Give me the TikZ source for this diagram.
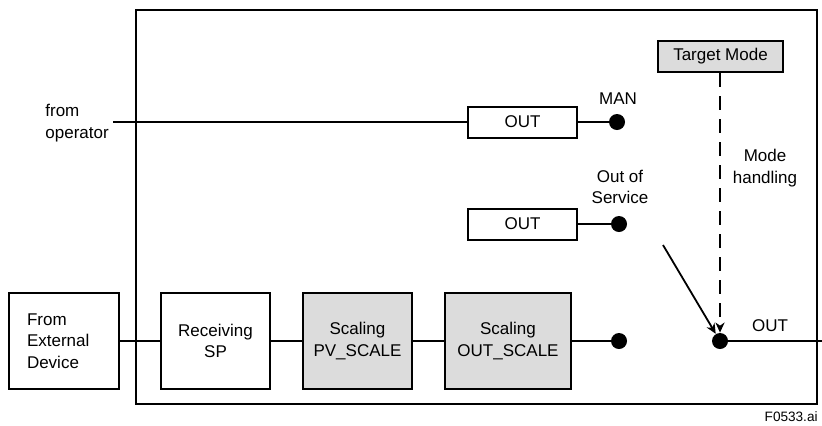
\documentclass[tikz,border=0pt]{standalone}
\usepackage{fontspec}
\setmainfont{Liberation Sans}
\usetikzlibrary{arrows.meta}
\definecolor{boxgray}{RGB}{220,220,220}
\tikzset{
  lbl/.style={font=\fontsize{8.5}{10.8}\selectfont, inner sep=0pt, align=center},
  blk/.style={draw, line width=1pt, fill=white, font=\fontsize{8.5}{10.8}\selectfont, align=center, inner sep=0pt},
  gblk/.style={blk, fill=boxgray},
  dot/.style={circle, fill=black, inner sep=0pt, minimum size=8pt},
  wire/.style={line width=0.9pt},
  tip/.style={-{Stealth[length=5pt,width=4.5pt,inset=1.5pt]}},
}
\begin{document}
\begin{tikzpicture}[x=0.5pt,y=-0.5pt]
\useasboundingbox (0,0) rectangle (822,425);

% function block frame
\draw[line width=1pt] (136,10) rectangle (817,404);

% manual path
\node[lbl, align=left, anchor=west] (op) at (45,123) {from\\operator};
\coordinate (opend) at (113,122);
\node[blk, minimum width=54.5pt, minimum height=15.5pt] (outman) at (522.5,122) {OUT};
\node[dot] (dman) at (617,122) {};
\node[lbl] (man) at (618,99) {MAN};
\draw[wire] (opend) -- (outman.west);
\draw[wire] (outman.east) -- (dman);

% out of service path
\node[blk, minimum width=54.5pt, minimum height=15.5pt] (outoos) at (522.5,224) {OUT};
\node[dot] (doos) at (619,224) {};
\node[lbl] (oos) at (620,187) {Out of\\Service};
\draw[wire] (outoos.east) -- (doos);

% target mode
\node[gblk, minimum width=62.5pt, minimum height=15.5pt] (tmode) at (720.5,56.5) {Target Mode};
\node[lbl] (mh) at (765,168) {Mode\\handling};

% main signal chain
\node[blk, minimum width=55pt, minimum height=48pt, align=left] (ext) at (64,341)
  {\makebox[37pt][l]{From}\\\makebox[37pt][l]{External}\\\makebox[37pt][l]{Device}};
\node[blk, minimum width=54.5pt, minimum height=48pt] (recv) at (215.5,341) {Receiving\\SP};
\node[gblk, minimum width=54.5pt, minimum height=48pt] (pvs) at (357.5,341) {Scaling\\PV\_SCALE};
\node[gblk, minimum width=63pt, minimum height=48pt] (outs) at (508,341) {Scaling\\OUT\_SCALE};
\node[dot] (dsc) at (619,341) {};
\node[dot] (junc) at (720,341) {};
\node[lbl] (outlbl) at (770,326) {OUT};
\coordinate (outend) at (822,341);
\coordinate (sw) at (663,245);

\draw[wire] (ext.east) -- (recv.west);
\draw[wire] (recv.east) -- (pvs.west);
\draw[wire] (pvs.east) -- (outs.west);
\draw[wire] (outs.east) -- (dsc);
\draw[wire] (junc) -- (outend);

% switch and mode handling
\draw[wire, tip] (sw) -- (junc);
\draw[wire, tip, dash pattern=on 7pt off 4.5pt] (tmode.south -| junc) -- (junc);

\node[font=\fontsize{6.8}{8}\selectfont, anchor=east, inner sep=0pt] (fig) at (818,417) {F0533.ai};
\end{tikzpicture}
\end{document}
